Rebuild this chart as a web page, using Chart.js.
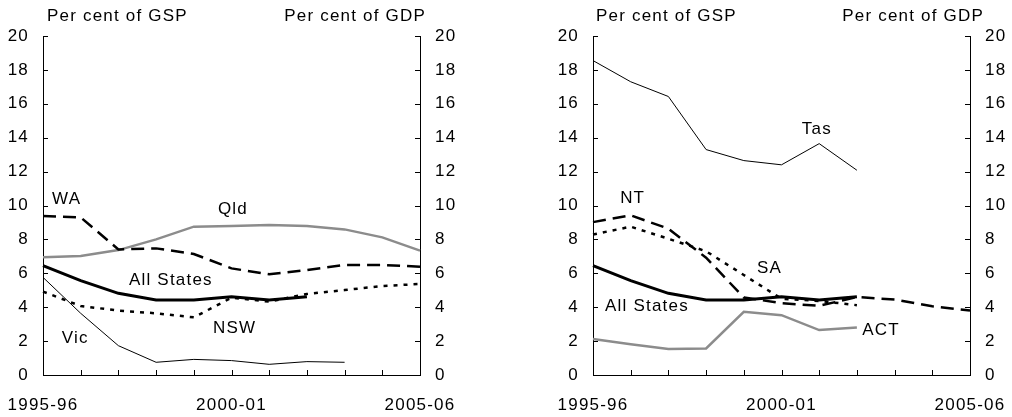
<!DOCTYPE html>
<html>
<head>
<meta charset="utf-8">
<script src="https://cdn.jsdelivr.net/npm/chart.js@4"></script>
<style>
  body{margin:0;background:#fff;}
  .wrap{display:flex;width:1012px;height:417px;}
  canvas{display:block;}
</style>
</head>
<body>
<div class="wrap">
  <canvas id="leftChart" width="506" height="417"></canvas>
  <canvas id="rightChart" width="506" height="417"></canvas>
</div>
<script>
// ---------- Data ----------
const years = ['1995-96','1996-97','1997-98','1998-99','1999-00','2000-01',
               '2001-02','2002-03','2003-04','2004-05','2005-06'];
const shownYears = ['1995-96','2000-01','2005-06'];
const yMin = 0, yMax = 20, yStep = 2;

const allStates = [6.45, 5.57, 4.82, 4.42, 4.42, 4.62, 4.42, 4.62];
const nsw = [4.92, 4.07, 3.8, 3.64, 3.4, 4.56, 4.33, 4.78, 5.01, 5.25, 5.37];
const vic = [5.76, 3.64, 1.73, 0.75, 0.92, 0.85, 0.63, 0.79, 0.75];
const qld = [6.94, 7.02, 7.37, 8.0, 8.75, 8.79, 8.85, 8.79, 8.59, 8.12, 7.34];
const wa  = [9.38, 9.3, 7.41, 7.47, 7.14, 6.29, 5.94, 6.19, 6.49, 6.49, 6.39];
const sa  = [8.29, 8.75, 8.04, 7.3, 5.9, 4.5, 4.37, 4.12];
const tas = [18.55, 17.3, 16.43, 13.3, 12.65, 12.4, 13.65, 12.08];
const nt  = [9.02, 9.42, 8.63, 6.92, 4.57, 4.24, 4.08, 4.6, 4.45, 4.05, 3.8];
const act = [2.12, 1.82, 1.53, 1.57, 3.73, 3.53, 2.65, 2.8];

// ---------- Styles ----------
const FAMILY = '"Liberation Sans", Arial, sans-serif';
const FONT = '17px ' + FAMILY;
const SPACING = '1.2px';
const GREY = '#8c8c8c';

function line(label, data, opts){
  return Object.assign({
    label, data,
    borderColor: '#000', borderWidth: 2.5,
    pointRadius: 0, tension: 0, fill: false
  }, opts || {});
}

// inward tick marks, x labels, titles and series labels
const panelText = {
  id: 'panelText',
  beforeLayout(chart){ chart.ctx.letterSpacing = SPACING; },
  beforeDraw(chart){ chart.ctx.letterSpacing = SPACING; },
  afterDraw(chart, args, opts){
    const {ctx, chartArea: a, scales: {x, y}} = chart;
    ctx.save();
    ctx.strokeStyle = '#000';
    ctx.lineWidth = 1;
    ctx.beginPath();
    x.ticks.forEach((t, i) => {
      const px = Math.round(x.getPixelForTick(i)) + 0.5;
      ctx.moveTo(px, a.bottom); ctx.lineTo(px, a.bottom - 5);
    });
    y.ticks.forEach((t, i) => {
      const py = Math.round(y.getPixelForTick(i)) + 0.5;
      ctx.moveTo(a.left, py); ctx.lineTo(a.left + 5, py);
      ctx.moveTo(a.right, py); ctx.lineTo(a.right - 5, py);
    });
    ctx.stroke();

    ctx.font = FONT;
    ctx.letterSpacing = SPACING;
    ctx.fillStyle = '#000';
    ctx.textBaseline = 'middle';

    // x axis labels
    ctx.textAlign = 'center';
    shownYears.forEach(l => {
      ctx.fillText(l, x.getPixelForValue(years.indexOf(l)), a.bottom + 30);
    });

    ctx.textAlign = 'left';
    ctx.fillText('Per cent of GSP', a.left + opts.leftDx, 16.5);
    ctx.textAlign = 'right';
    ctx.fillText('Per cent of GDP', a.right + opts.rightDx, 16.5);
    ctx.textAlign = 'left';
    opts.labels.forEach(l => {
      ctx.fillText(l.text, x.getPixelForValue(l.x), y.getPixelForValue(l.y));
    });
    ctx.restore();
  }
};

function makeOptions(leftWidth, rightWidth, textOpts){
  const yAxis = (pos, w, pad) => ({
    position: pos, min: yMin, max: yMax,
    grid: {display: true, drawOnChartArea: false, drawTicks: false},
    border: {display: true, color: '#000', width: 1},
    ticks: {stepSize: yStep, color: '#000', font: {family: FAMILY, size: 17}, padding: pad},
    afterFit(scale){ scale.width = w; }
  });
  return {
    responsive: false,
    animation: false,
    layout: {padding: {top: 36, bottom: 0, left: 0, right: 0}},
    plugins: {legend: {display: false}, tooltip: {enabled: false}, panelText: textOpts},
    scales: {
      x: {
        grid: {display: true, drawOnChartArea: false, drawTicks: false},
        border: {display: true, color: '#000', width: 1},
        ticks: {display: false},
        afterFit(scale){
          scale.height = 42;
          scale.paddingLeft = 0;
          scale.paddingRight = 0;
        }
      },
      y: yAxis('left', leftWidth, 14),
      y2: yAxis('right', rightWidth, 15)
    }
  };
}

// ---------- Left panel ----------
new Chart(document.getElementById('leftChart').getContext('2d'), {
  type: 'line',
  data: {
    labels: years,
    datasets: [
      line('All States', allStates, {borderWidth: 3}),
      line('NSW', nsw, {borderDash: [4, 6]}),
      line('Vic', vic, {borderWidth: 1}),
      line('WA', wa, {borderDash: [13, 7]}),
      line('Qld', qld, {borderColor: GREY})
    ]
  },
  options: makeOptions(43, 86, {
    leftDx: 4, rightDx: 6,
    labels: [
      {text: 'WA', x: 0.24, y: 10.35},
      {text: 'Qld', x: 4.64, y: 9.76},
      {text: 'All States', x: 2.28, y: 5.58},
      {text: 'NSW', x: 4.51, y: 2.74},
      {text: 'Vic', x: 0.5, y: 2.15}
    ]
  }),
  plugins: [panelText]
});

// ---------- Right panel ----------
new Chart(document.getElementById('rightChart').getContext('2d'), {
  type: 'line',
  data: {
    labels: years,
    datasets: [
      line('All States', allStates, {borderWidth: 3}),
      line('SA', sa, {borderDash: [4, 6]}),
      line('NT', nt, {borderDash: [13, 7]}),
      line('Tas', tas, {borderWidth: 1}),
      line('ACT', act, {borderColor: GREY})
    ]
  },
  options: makeOptions(87, 42, {
    leftDx: 3, rightDx: 14,
    labels: [
      {text: 'Tas', x: 5.54, y: 14.47},
      {text: 'NT', x: 0.72, y: 10.44},
      {text: 'SA', x: 4.35, y: 6.32},
      {text: 'All States', x: 0.32, y: 4.03},
      {text: 'ACT', x: 7.14, y: 2.65}
    ]
  }),
  plugins: [panelText]
});
</script>
</body>
</html>
